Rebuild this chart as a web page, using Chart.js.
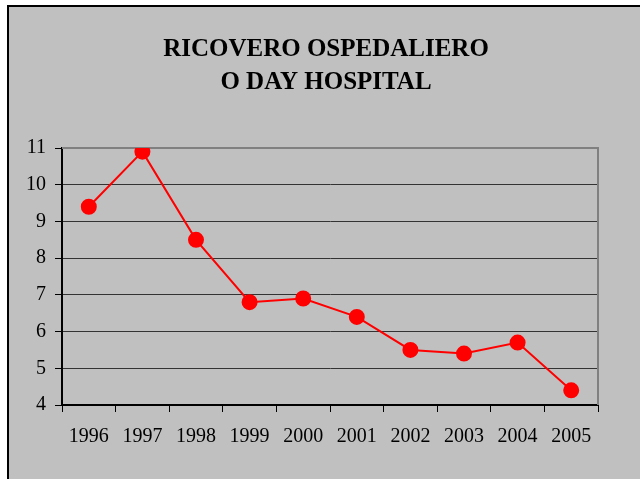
<!DOCTYPE html>
<html>
<head>
<meta charset="utf-8">
<script src="https://cdn.jsdelivr.net/npm/chart.js@4"></script>
<style>
html,body{margin:0;padding:0;background:#fff;}
#wrap{position:relative;width:640px;height:479px;}
</style>
</head>
<body>
<div id="wrap"><canvas id="c" width="640" height="479"></canvas></div>
<script>
const categories = ['1996','1997','1998','1999','2000','2001','2002','2003','2004','2005'];
const values = [9.4, 10.9, 8.5, 6.8, 6.9, 6.4, 5.5, 5.4, 5.7, 4.4];
const titleLines = ['RICOVERO OSPEDALIERO', 'O DAY HOSPITAL'];
const yMin = 4, yMax = 11, yStep = 1;

const SERIF = "'Liberation Serif', 'Times New Roman', 'DejaVu Serif', serif";

const bgPlugin = {
  id: 'bg',
  beforeDraw(chart) {
    const ctx = chart.ctx;
    ctx.save();
    ctx.fillStyle = '#ffffff';
    ctx.fillRect(0, 0, chart.width, chart.height);
    ctx.fillStyle = '#c0c0c0';
    ctx.fillRect(8, 6, chart.width - 8, chart.height - 6);
    ctx.fillStyle = '#000000';
    ctx.fillRect(7, 5, chart.width - 7, 2);
    ctx.fillRect(7, 5, 2, chart.height - 5);
    ctx.restore();
  },
  beforeDatasetsDraw(chart) {
    const a = chart.chartArea;
    const ctx = chart.ctx;
    ctx.save();
    ctx.strokeStyle = '#808080';
    ctx.lineWidth = 2;
    ctx.beginPath();
    ctx.moveTo(a.left, a.top);
    ctx.lineTo(a.right, a.top);
    ctx.lineTo(a.right, a.bottom);
    ctx.stroke();
    ctx.restore();
  }
};

new Chart(document.getElementById('c'), {
  type: 'line',
  data: {
    labels: categories,
    datasets: [{
      data: values,
      borderColor: '#ff0000',
      backgroundColor: '#ff0000',
      borderWidth: 2,
      pointRadius: 7,
      pointHoverRadius: 7,
      pointBackgroundColor: '#ff0000',
      pointBorderColor: '#ff0000',
      tension: 0,
      fill: false
    }]
  },
  options: {
    responsive: false,
    animation: false,
    events: [],
    layout: { padding: { left: 12, right: 0, top: 0, bottom: 0 } },
    plugins: {
      legend: { display: false },
      tooltip: { enabled: false },
      title: {
        display: true,
        text: titleLines,
        color: '#000',
        font: { family: SERIF, size: 25, weight: 'bold', lineHeight: 1.32 },
        padding: { top: 33, bottom: 49 }
      }
    },
    scales: {
      x: {
        type: 'category',
        offset: true,
        afterFit(s) { s.height = 74; },
        grid: {
          offset: true,
          drawOnChartArea: false,
          drawTicks: true,
          tickLength: 7,
          color: '#000',
          lineWidth: 1
        },
        border: { display: true, color: '#000', width: 2 },
        ticks: {
          color: '#000',
          font: { family: SERIF, size: 20 },
          padding: 13,
          maxRotation: 0,
          autoSkip: false
        }
      },
      y: {
        min: yMin,
        max: yMax,
        afterFit(s) { s.width = 50; },
        grid: {
          drawTicks: true,
          tickLength: 7,
          color: '#333333',
          lineWidth: 1,
          tickColor: '#000'
        },
        border: { display: true, color: '#000', width: 2 },
        ticks: {
          stepSize: yStep,
          color: '#000',
          font: { family: SERIF, size: 20 },
          padding: 9
        }
      },
      yRight: {
        type: 'linear',
        position: 'right',
        min: yMin,
        max: yMax,
        afterFit(s) { s.width = 42; },
        grid: { display: false, drawOnChartArea: false },
        border: { display: false },
        ticks: { display: false }
      }
    }
  },
  plugins: [bgPlugin]
});
</script>
</body>
</html>
